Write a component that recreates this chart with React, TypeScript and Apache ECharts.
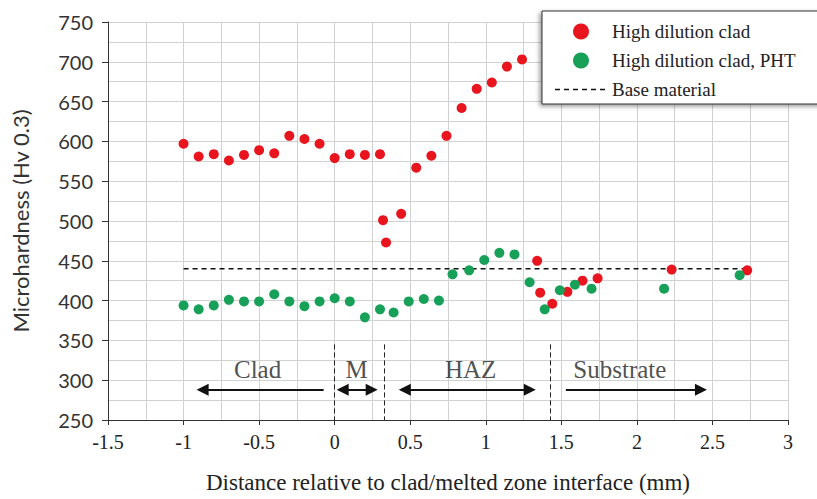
import React, { useEffect, useRef } from 'react';
import * as echarts from 'echarts';

// High dilution clad (red)
const redX = [-1.0, -0.9, -0.8, -0.7, -0.6, -0.5, -0.4, -0.3, -0.2, -0.1, 0, 0.1, 0.2, 0.3, 0.32, 0.34, 0.44, 0.54, 0.64, 0.74, 0.84, 0.94, 1.04, 1.14, 1.24, 1.34, 1.36, 1.44, 1.54, 1.64, 1.74, 2.23, 2.73];
const redY = [597, 581, 584, 576, 583, 589, 585, 607, 603, 597, 579, 584, 583, 584, 501, 473, 509, 567, 582, 607, 642, 666, 674, 694, 703, 450, 410, 396, 411, 425, 428, 439, 438];

// High dilution clad, PHT (green)
const greenX = [-1.0, -0.9, -0.8, -0.7, -0.6, -0.5, -0.4, -0.3, -0.2, -0.1, 0, 0.1, 0.2, 0.3, 0.39, 0.49, 0.59, 0.69, 0.78, 0.89, 0.99, 1.09, 1.19, 1.29, 1.39, 1.49, 1.59, 1.7, 2.18, 2.68];
const greenY = [394, 389, 394, 401, 399, 399, 408, 399, 393, 399, 403, 399, 379, 389, 385, 399, 402, 400, 433, 438, 451, 460, 458, 423, 389, 413, 420, 415, 415, 432];

// Base material reference
const baseX = [-1.0, 2.75];
const baseY = [440, 440];

// Zone annotations
const zoneNames = ['Clad', 'M', 'HAZ', 'Substrate'];
const zoneLabelX = [-0.51, 0.146, 0.9, 1.887];
const zoneLabelY = 314;
const arrowFrom = [-0.874, 0.053, 0.464, 1.53];
const arrowTo = [-0.073, 0.245, 1.291, 2.424];
const arrowHeadFrom = [true, true, true, false];
const arrowHeadTo = [false, true, true, true];
const arrowY = 288;
const boundaryX = [0, 0.325, 1.425];
const boundaryTop = 345;
const boundaryBottom = 250;

const RED = '#e8141e';
const GREEN = '#17a058';
const SERIF = 'Liberation Serif';
const SANS = 'Lato';

// dashed-line legend icon (six short dashes)
const DASH_ICON =
  'path://M0,0M52,16M0,7.25H5V8.75H0ZM9,7.25H14V8.75H9ZM18,7.25H23V8.75H18ZM27,7.25H32V8.75H27ZM36,7.25H41V8.75H36ZM45,7.25H50V8.75H45Z';

export default function App() {
  const ref = useRef<HTMLDivElement>(null);
  useEffect(() => {
    if (!ref.current) return;
    const chart = echarts.init(ref.current, undefined, { renderer: 'svg' });

    const arrowLines = arrowFrom.map((fx, i) => [
      { coord: [fx, arrowY], symbol: arrowHeadFrom[i] ? 'triangle' : 'none', symbolSize: 12 },
      { coord: [arrowTo[i], arrowY], symbol: arrowHeadTo[i] ? 'triangle' : 'none', symbolSize: 12 },
    ]);
    const boundaryLines = boundaryX.map((bx) => [
      { coord: [bx, boundaryTop], symbol: 'none', lineStyle: { type: [5, 3], width: 1, color: '#222' } },
      { coord: [bx, boundaryBottom], symbol: 'none' },
    ]);

    chart.setOption({
      animation: false,
      backgroundColor: '#fff',
      grid: { left: 108, right: 29, top: 22, bottom: 79, containLabel: false },
      legend: {
        data: [
          { name: 'High dilution clad' },
          { name: 'High dilution clad, PHT' },
          { name: 'Base material', icon: DASH_ICON, itemStyle: { color: '#111' } },
        ],
        orient: 'vertical',
        left: 542,
        top: 11,
        itemWidth: 52,
        itemHeight: 16,
        itemGap: 10,
        padding: [11, 80, 5, 13],
        backgroundColor: '#fff',
        borderColor: '#333',
        borderWidth: 1,
        shadowColor: 'rgba(0,0,0,0.4)',
        shadowBlur: 4,
        shadowOffsetX: -2,
        shadowOffsetY: 2,
        textStyle: { fontFamily: SERIF, fontSize: 19, color: '#222' },
      },
      xAxis: {
        type: 'value',
        min: -1.5,
        max: 3,
        interval: 0.5,
        name: 'Distance relative to clad/melted zone interface (mm)',
        nameLocation: 'middle',
        nameGap: 51,
        nameTextStyle: { fontFamily: SERIF, fontSize: 23, color: '#222' },
        axisLine: { show: true, onZero: false, lineStyle: { color: '#333', width: 1 } },
        axisTick: { show: true, length: 5, lineStyle: { color: '#333' } },
        axisLabel: { fontFamily: SERIF, fontSize: 20, color: '#222', margin: 12 },
        splitLine: { show: true, lineStyle: { color: '#d2d2d2', width: 1 } },
        minorTick: { show: false, splitNumber: 2 },
        minorSplitLine: { show: true, lineStyle: { color: '#d2d2d2', width: 1 } },
      },
      yAxis: {
        type: 'value',
        min: 250,
        max: 750,
        interval: 50,
        name: 'Microhardness (Hv 0.3)',
        nameLocation: 'middle',
        nameGap: 77,
        nameTextStyle: { fontFamily: SANS, fontSize: 22, color: '#333' },
        axisLine: { show: true, onZero: false, lineStyle: { color: '#333', width: 1 } },
        axisTick: { show: true, length: 6, lineStyle: { color: '#333' } },
        axisLabel: { fontFamily: SANS, fontSize: 20, color: '#333', margin: 15 },
        splitLine: { show: true, lineStyle: { color: '#d2d2d2', width: 1 } },
        minorTick: { show: false, splitNumber: 2 },
        minorSplitLine: { show: true, lineStyle: { color: '#d2d2d2', width: 1 } },
      },
      series: [
        {
          name: 'Base material',
          type: 'line',
          data: baseX.map((x, i) => [x, baseY[i]]),
          symbol: 'none',
          lineStyle: { color: '#111', width: 1.5, type: [5, 4] },
          itemStyle: { color: '#111' },
          silent: true,
          z: 2,
        },
        {
          name: 'High dilution clad',
          type: 'scatter',
          data: redX.map((x, i) => [x, redY[i]]),
          symbol: 'circle',
          symbolSize: 10,
          itemStyle: { color: RED, opacity: 1 },
          z: 3,
        },
        {
          name: 'High dilution clad, PHT',
          type: 'scatter',
          data: greenX.map((x, i) => [x, greenY[i]]),
          symbol: 'circle',
          symbolSize: 10,
          itemStyle: { color: GREEN, opacity: 1 },
          z: 3,
        },
        {
          name: 'zones',
          type: 'scatter',
          data: zoneNames.map((n, i) => ({ name: n, value: [zoneLabelX[i], zoneLabelY] })),
          symbolSize: 1,
          itemStyle: { color: 'rgba(0,0,0,0)' },
          silent: true,
          label: {
            show: true,
            position: 'inside',
            formatter: '{b}',
            fontFamily: SERIF,
            fontSize: 25,
            color: '#222',
          },
          markLine: {
            silent: true,
            symbol: ['none', 'none'],
            label: { show: false },
            lineStyle: { color: '#111', width: 2, type: 'solid' },
            data: [...arrowLines, ...boundaryLines],
          },
          z: 4,
        },
      ],
    });
    return () => chart.dispose();
  }, []);
  return <div ref={ref} style={{ position: 'fixed', left: 0, top: 0, width: 817, height: 499 }} />;
}
